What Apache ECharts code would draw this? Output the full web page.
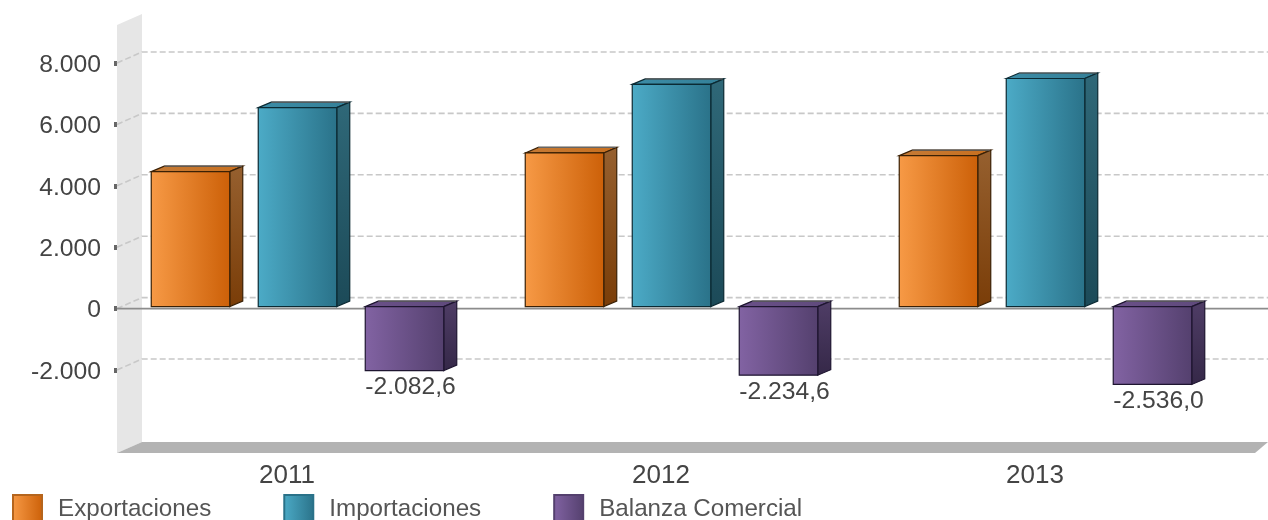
<!DOCTYPE html>
<html><head><meta charset="utf-8">
<style>html,body{margin:0;padding:0;background:#fff}#c{width:1268px;height:520px}</style>
<script src="https://cdn.jsdelivr.net/npm/echarts@6/dist/echarts.min.js"></script>
</head><body><div id="c"></div>
<script>
const categories = ['2011','2012','2013'];
const exportaciones = [4397, 5005, 4918];
const importaciones = [6482, 7240, 7430];
const balanza = [-2082.6, -2234.6, -2536.0];
const yTicks = [8000,6000,4000,2000,0,-2000];
const seriesNames = ['Exportaciones','Importaciones','Balanza Comercial'];

const FONT = '"Liberation Sans", Arial, sans-serif';
const TXT = '#444444';
const WALL_TOP = 9240, WALL_BOTTOM = -4700;
const BAR_W = 78.5, PITCH = 107, GROUP_SHIFT = 10.5, FRONT_DY = -2, DX = 13, DY = -5.5;
const X_L = 117, X_B = 142, X_FR = 1255, X_R = 1268, WDY = -11;

function lg(c1,c2,horizontal){
  return new echarts.graphic.LinearGradient(0,0,horizontal?1:0,horizontal?0:1,[{offset:0,color:c1},{offset:1,color:c2}]);
}
const palettes = [
 {front:['#F79A46','#CC6008'], top:['#C47A36','#C9701F'], side:['#96602F','#7A3D08'], stroke:'#3A2005', legend:'#B5651D'},
 {front:['#4CABC7','#2A7289'], top:['#3C8CA6','#348098'], side:['#2F6878','#1C4A58'], stroke:'#0B2A33', legend:'#2A7289'},
 {front:['#8263A3','#54406E'], top:['#6A5088','#5F4A7C'], side:['#4F3D66','#352848'], stroke:'#1E1530', legend:'#54406E'}
];
function fmt(v,dec){
  const neg=v<0; const s=Math.abs(v).toFixed(dec||0).split('.');
  const i=s[0].replace(/\B(?=(\d{3})+$)/g,'.');
  return (neg?'-':'')+i+(s[1]?','+s[1]:'');
}
function barSeries(idx,values){
  const p=palettes[idx];
  return {
    type:'custom', name:seriesNames[idx], z:5,
    itemStyle:{color:lg(p.front[0],p.front[1],true),borderColor:p.legend,borderWidth:1},
    data:categories.map((c,i)=>[i,values[i]]),
    renderItem(params,api){
      const v=api.value(1);
      const base=api.coord([api.value(0),0]);
      const top=api.coord([api.value(0),v]);
      const xl=base[0]+GROUP_SHIFT+(idx-1)*PITCH-BAR_W/2, xr=xl+BAR_W;
      const y0=Math.min(base[1],top[1])+FRONT_DY, y1=Math.max(base[1],top[1])+FRONT_DY;
      const sh={stroke:p.stroke,lineWidth:1.2,lineJoin:'miter'};
      const kids=[
        {type:'polygon',shape:{points:[[xl,y0],[xl+DX,y0+DY],[xr+DX,y0+DY],[xr,y0]]},style:{fill:lg(p.top[0],p.top[1],true),...sh}},
        {type:'polygon',shape:{points:[[xr,y0],[xr+DX,y0+DY],[xr+DX,y1+DY],[xr,y1]]},style:{fill:lg(p.side[0],p.side[1],false),...sh}},
        {type:'line',shape:{x1:xl+DX,y1:y0+DY,x2:xr+DX-1,y2:y0+DY},style:{stroke:'#666666',lineWidth:1.2}},
        {type:'rect',shape:{x:xl,y:y0,width:BAR_W,height:y1-y0},style:{fill:lg(p.front[0],p.front[1],true),...sh}}
      ];
      if(v<0){
        kids.push({type:'text',style:{text:fmt(v,1),x:(xl+xr+DX)/2-0.5,y:y1+16.5,align:'center',verticalAlign:'middle',
          fill:TXT,font:'24.7px '+FONT}});
      }
      return {type:'group',children:kids};
    }
  };
}
const backdrop = {
  type:'custom', name:'backdrop', z:1, silent:true, tooltip:{show:false},
  data:yTicks.map(t=>[0,t]),
  renderItem(params,api){
    const y=api.coord([0,api.value(1)])[1];
    const kids=[];
    if(params.dataIndex===0){
      const yt=api.coord([0,WALL_TOP])[1], yb=api.coord([0,WALL_BOTTOM])[1];
      kids.push({type:'polygon',shape:{points:[[X_L,yt],[X_B,yt+WDY],[X_B,yb+WDY],[X_L,yb]]},style:{fill:'#E6E6E6'}});
      kids.push({type:'polygon',shape:{points:[[X_L,yb],[X_B,yb+WDY],[X_R,yb+WDY],[X_FR,yb]]},style:{fill:'#B3B3B3'}});
    }
    kids.push({type:'polyline',shape:{points:[[X_L,y],[X_B,y+WDY],[X_R,y+WDY]]},
      style:{stroke:'#C8C8C8',lineWidth:1.6,lineDash:[6,3],fill:'none'}});
    if(api.value(1)===0){
      kids.push({type:'line',shape:{x1:X_L,y1:y,x2:X_R,y2:y},style:{stroke:'#8C8C8C',lineWidth:1.6}});
    }
    return {type:'group',children:kids};
  }
};
const chart=echarts.init(document.getElementById('c'),null,{renderer:'canvas'});
chart.setOption({
  animation:false,
  backgroundColor:'#ffffff',
  grid:{left:100,width:1122,top:63,height:307},
  legend:{
    data:seriesNames, left:12, top:494, padding:0, itemWidth:29, itemHeight:28, itemGap:72, icon:'rect',
    textStyle:{color:'#555555',fontFamily:FONT,fontSize:24.2,padding:[0,0,0,11]}
  },
  xAxis:{type:'category',data:categories,axisLine:{show:false},axisTick:{show:false},splitLine:{show:false},
    axisLabel:{color:TXT,fontFamily:FONT,fontSize:26,margin:93}},
  yAxis:{type:'value',min:-2000,max:8000,interval:2000,offset:-17,
    axisLine:{show:false},axisTick:{show:true,length:3,lineStyle:{color:'#666666',width:5}},splitLine:{show:false},
    axisLabel:{color:TXT,fontFamily:FONT,fontSize:24.7,margin:16,verticalAlign:'top',lineHeight:4,formatter:v=>fmt(v)}},
  series:[backdrop,barSeries(0,exportaciones),barSeries(1,importaciones),barSeries(2,balanza)]
});
</script></body></html>
